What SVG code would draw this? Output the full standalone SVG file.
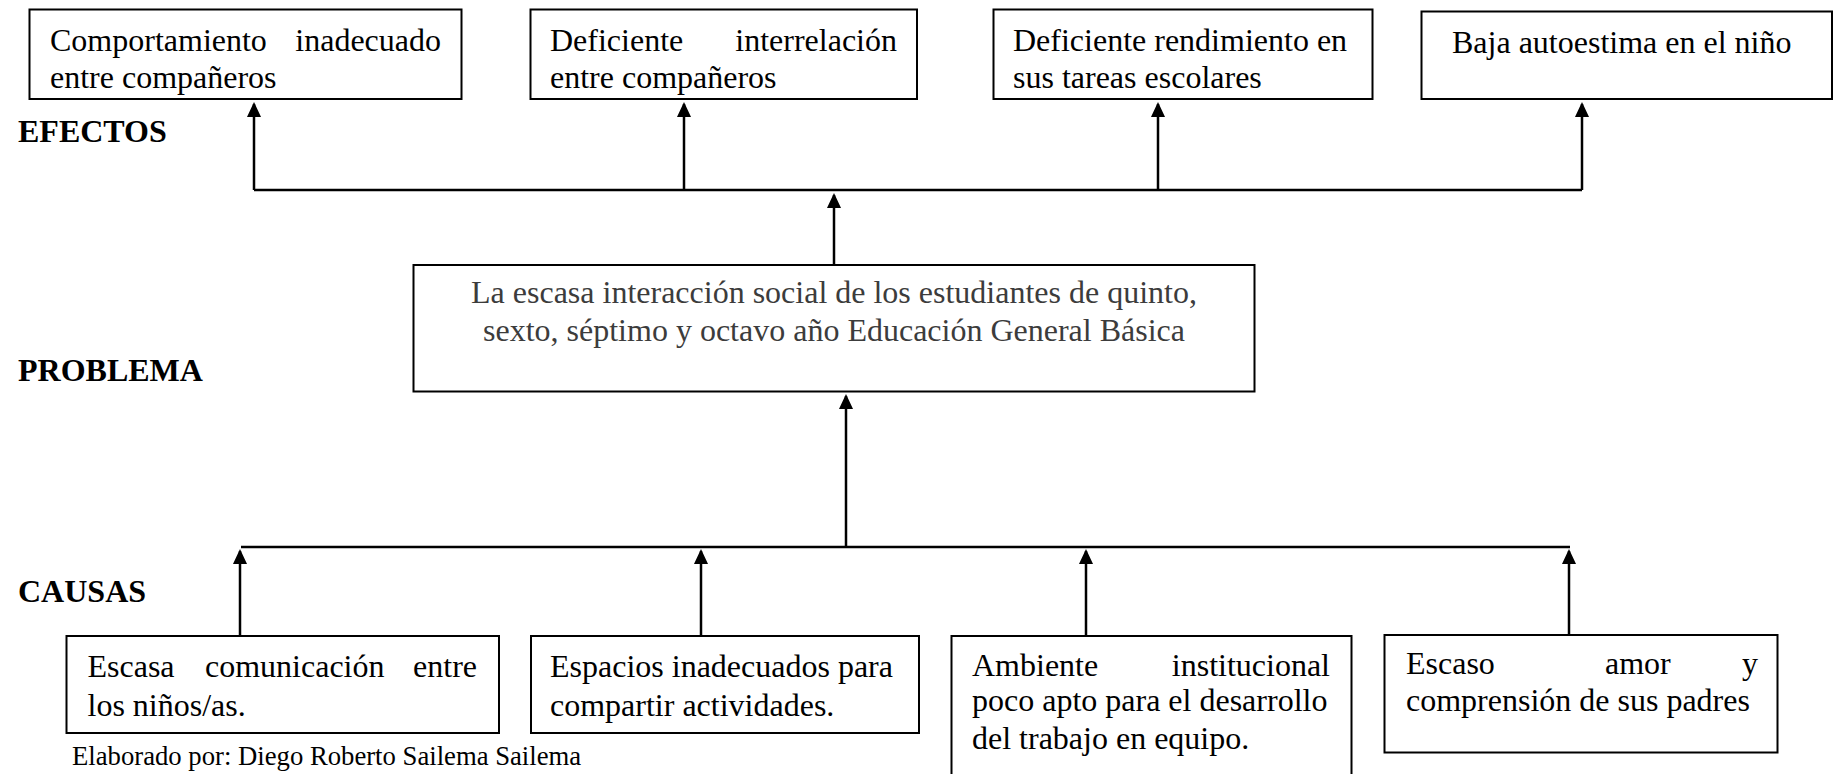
<svg xmlns="http://www.w3.org/2000/svg" width="1834" height="774" viewBox="0 0 1834 774">
<style>
.box{fill:#fff;stroke:#000;stroke-width:2}
.t{font-family:"Liberation Serif","Times New Roman",serif;font-size:32px;fill:#000}
.tp{font-family:"Liberation Serif","Times New Roman",serif;font-size:32px;fill:#3c3c3c}
.lbl{font-family:"Liberation Serif","Times New Roman",serif;font-size:32px;font-weight:bold;fill:#000}
.foot{font-family:"Liberation Serif","Times New Roman",serif;font-size:26.7px;fill:#000}
.c{fill:none;stroke:#000;stroke-width:2.5}
.e{text-anchor:end}
</style>
<defs>
<marker id="ah" markerUnits="userSpaceOnUse" viewBox="0 0 15 14" refX="13" refY="7" markerWidth="15" markerHeight="14" orient="auto">
<path d="M0,0 L15,7 L0,14 z" fill="#000"/>
</marker>
</defs>
<rect width="1834" height="774" fill="#fff"/>

<g id="labels">
<text class="lbl" x="18" y="142">EFECTOS</text>
<text class="lbl" x="18" y="381">PROBLEMA</text>
<text class="lbl" x="18" y="602">CAUSAS</text>
<text class="foot" x="72" y="765">Elaborado por: Diego Roberto Sailema Sailema</text>
</g>

<g id="connectors">
<polyline class="c" points="254,190 1582,190"/>
<line class="c" x1="254" y1="190" x2="254" y2="104" marker-end="url(#ah)"/>
<line class="c" x1="684" y1="190" x2="684" y2="104" marker-end="url(#ah)"/>
<line class="c" x1="1158" y1="190" x2="1158" y2="104" marker-end="url(#ah)"/>
<line class="c" x1="1582" y1="190" x2="1582" y2="104" marker-end="url(#ah)"/>
<line class="c" x1="834" y1="264" x2="834" y2="195" marker-end="url(#ah)"/>
<line class="c" x1="846" y1="546" x2="846" y2="396" marker-end="url(#ah)"/>
<polyline class="c" points="241,547 1570,547"/>
<line class="c" x1="240" y1="636" x2="240" y2="551" marker-end="url(#ah)"/>
<line class="c" x1="701" y1="636" x2="701" y2="551" marker-end="url(#ah)"/>
<line class="c" x1="1086" y1="636" x2="1086" y2="551" marker-end="url(#ah)"/>
<line class="c" x1="1569" y1="635" x2="1569" y2="551" marker-end="url(#ah)"/>
</g>

<g id="efecto1">
<rect class="box" x="29.5" y="9.5" width="432" height="89.5"/>
<text class="t" x="50" y="50.5">Comportamiento</text>
<text class="t e" x="441" y="50.5">inadecuado</text>
<text class="t" x="50" y="87.5">entre compañeros</text>
</g>
<g id="efecto2">
<rect class="box" x="530.5" y="9.5" width="386.5" height="89.5"/>
<text class="t" x="550" y="50.5">Deficiente</text>
<text class="t e" x="897" y="50.5">interrelación</text>
<text class="t" x="550" y="87.5">entre compañeros</text>
</g>
<g id="efecto3">
<rect class="box" x="993.5" y="9.5" width="379" height="89.5"/>
<text class="t" x="1013" y="50.5">Deficiente rendimiento en</text>
<text class="t" x="1013" y="87.5">sus tareas escolares</text>
</g>
<g id="efecto4">
<rect class="box" x="1421.5" y="11.5" width="410.5" height="87.5"/>
<text class="t" x="1452" y="53">Baja autoestima en el niño</text>
</g>

<g id="problema">
<rect class="box" x="413.5" y="265" width="841" height="126.5"/>
<text class="tp" x="834" y="303" text-anchor="middle">La escasa interacción social de los estudiantes de quinto,</text>
<text class="tp" x="834" y="341" text-anchor="middle">sexto, séptimo y octavo año Educación General Básica</text>
</g>

<g id="causa1">
<rect class="box" x="66.5" y="636" width="432.5" height="97"/>
<text class="t" x="87.5" y="676.5">Escasa</text>
<text class="t" x="205" y="676.5">comunicación</text>
<text class="t e" x="477" y="676.5">entre</text>
<text class="t" x="87.5" y="716">los niños/as.</text>
</g>
<g id="causa2">
<rect class="box" x="531" y="636" width="388" height="97"/>
<text class="t" x="550" y="676.5">Espacios inadecuados para</text>
<text class="t" x="550" y="716">compartir actividades.</text>
</g>
<g id="causa3">
<rect class="box" x="951.5" y="636" width="400" height="160"/>
<text class="t" x="972" y="676">Ambiente</text>
<text class="t e" x="1330" y="676">institucional</text>
<text class="t" x="972" y="711">poco apto para el desarrollo</text>
<text class="t" x="972" y="749">del trabajo en equipo.</text>
</g>
<g id="causa4">
<rect class="box" x="1384.5" y="635" width="393" height="117.5"/>
<text class="t" x="1406" y="674">Escaso</text>
<text class="t" x="1605" y="674">amor</text>
<text class="t e" x="1758" y="674">y</text>
<text class="t" x="1406" y="711">comprensión de sus padres</text>
</g>
</svg>
